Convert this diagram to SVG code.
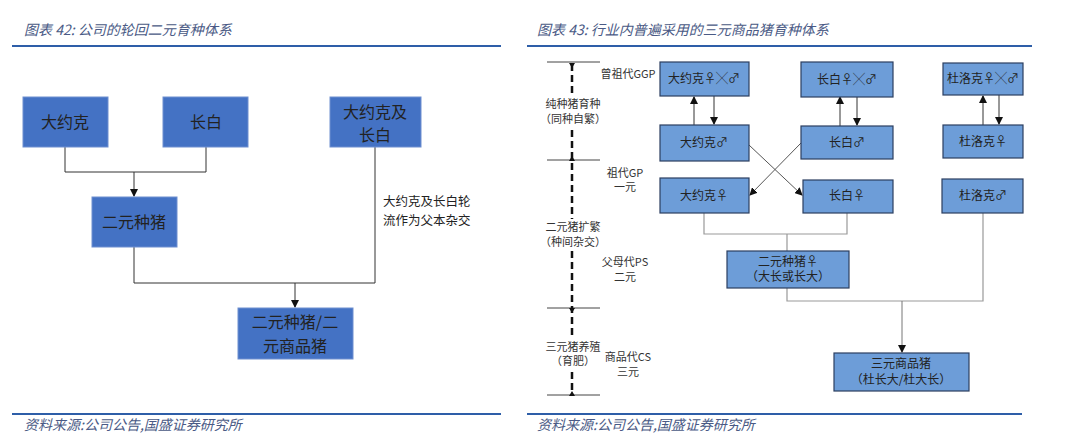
<svg xmlns="http://www.w3.org/2000/svg" width="1080" height="441" viewBox="0 0 1080 441">
<style>
text{font-family:"Noto Sans CJK SC","Liberation Sans",sans-serif;fill:#222}
.t{font-style:italic;fill:#4a5a85;font-size:14px}
.l{fill:#4472C4;stroke:#6e8fd0;stroke-width:1}
.lt{font-size:16px;text-anchor:middle}
.r{fill:#6d9dd8;stroke:#2c3e60;stroke-width:1.2}
.rt{font-size:12px;text-anchor:middle}
.s{font-size:11px;text-anchor:middle;fill:#333}
.c{fill:none;stroke:#333;stroke-width:1}
.g{fill:none;stroke:#999;stroke-width:1.2}
</style>
<defs>
<marker id="a" markerWidth="8" markerHeight="8" refX="7" refY="4" orient="auto" markerUnits="userSpaceOnUse"><path d="M0,0L8,4L0,8z" fill="#111"/></marker>
</defs>
<rect width="1080" height="441" fill="#fff"/>
<text class="t" x="24" y="35">图表 42:  公司的轮回二元育种体系</text>
<line x1="12" y1="46" x2="501" y2="46" stroke="#2e5ea8" stroke-width="2"/>
<text class="t" x="537" y="35">图表 43:  行业内普遍采用的三元商品猪育种体系</text>
<line x1="527" y1="46" x2="1032" y2="46" stroke="#2e5ea8" stroke-width="2"/>
<line x1="12" y1="414" x2="501" y2="414" stroke="#2e5ea8" stroke-width="2"/>
<line x1="527" y1="414" x2="1022" y2="414" stroke="#2e5ea8" stroke-width="2"/>
<text class="t" x="24" y="430">资料来源:公司公告,国盛证券研究所</text>
<text class="t" x="537" y="430">资料来源:公司公告,国盛证券研究所</text>

<g id="connectors">
<path class="c" d="M65,147V172H206V147M134,172V196" marker-end="url(#a)"/>
<path class="c" d="M375,147V283H134V247M295,283V307" marker-end="url(#a)"/>
<path class="c" d="M694,125V97" marker-end="url(#a)"/>
<path class="c" d="M714,96V124" marker-end="url(#a)"/>
<path class="c" d="M840,126V97" marker-end="url(#a)"/>
<path class="c" d="M857,97V125" marker-end="url(#a)"/>
<path class="c" d="M983,125V96" marker-end="url(#a)"/>
<path class="c" d="M999,95V124" marker-end="url(#a)"/>
<path class="c" d="M749,145L802,195" marker-end="url(#a)" style="stroke:#555"/>
<path class="c" d="M801,143L750,195" marker-end="url(#a)" style="stroke:#555"/>
<path class="g" d="M704,213V234H847V213M787,234V251"/>
<path class="g" d="M787,288V301H983V213"/>
<path class="c" d="M902,301V352" style="stroke:#777" marker-end="url(#a)"/>
<path d="M547,62H600M547,160H600M547,308H600M547,395H600" stroke="#444" stroke-width="1" fill="none"/>
<path d="M572,64V393" fill="none" stroke="#111" stroke-width="2.5" stroke-dasharray="7,4"/>
<path d="M572,68l-3,-5h6zM572,156l-3,5h6zM572,313l-3,-5h6zM572,391l-3,5h6z" fill="#111"/>
</g>

<g id="l1"><rect class="l" x="23" y="97" width="85" height="50"/><text class="lt" x="65" y="128">大约克</text></g>
<g id="l2"><rect class="l" x="163" y="97" width="85" height="50"/><text class="lt" x="206" y="128">长白</text></g>
<g id="l3"><rect class="l" x="330" y="97" width="91" height="50"/><text class="lt" x="375" y="118">大约克及</text><text class="lt" x="375" y="141">长白</text></g>
<g id="l4"><rect class="l" x="92" y="197" width="85" height="50"/><text class="lt" x="134" y="228">二元种猪</text></g>
<g id="l5"><rect class="l" x="238" y="308" width="115" height="51"/><text class="lt" x="295" y="328">二元种猪/二</text><text class="lt" x="295" y="352">元商品猪</text></g>
<g id="lbl"><text x="383" y="206" font-size="12.5">大约克及长白轮</text><text x="383" y="225" font-size="12.5">流作为父本杂交</text></g>

<g id="r1"><rect class="r" x="660" y="62" width="89" height="34"/><text class="rt" x="704" y="83">大约克♀╳♂</text></g>
<g id="r2"><rect class="r" x="801" y="62" width="92" height="35"/><text class="rt" x="847" y="84">长白♀╳♂</text></g>
<g id="r3"><rect class="r" x="943" y="63" width="80" height="32"/><text class="rt" x="983" y="83">杜洛克♀╳♂</text></g>
<g id="r4"><rect class="r" x="660" y="125" width="89" height="36"/><text class="rt" x="704" y="147">大约克♂</text></g>
<g id="r5"><rect class="r" x="801" y="126" width="92" height="33"/><text class="rt" x="847" y="147">长白♂</text></g>
<g id="r6"><rect class="r" x="943" y="125" width="80" height="33"/><text class="rt" x="983" y="146">杜洛克♀</text></g>
<g id="r7"><rect class="r" x="660" y="178" width="89" height="35"/><text class="rt" x="704" y="200">大约克♀</text></g>
<g id="r8"><rect class="r" x="803" y="180" width="90" height="33"/><text class="rt" x="847" y="200">长白♀</text></g>
<g id="r9"><rect class="r" x="942" y="179" width="81" height="34"/><text class="rt" x="983" y="200">杜洛克♂</text></g>
<g id="r10"><rect class="r" x="727" y="251" width="122" height="37"/><text class="rt" x="788" y="266">二元种猪♀</text><text class="rt" x="788" y="281">（大长或长大）</text></g>
<g id="r11"><rect class="r" x="834" y="353" width="135" height="38"/><text class="rt" x="901" y="368">三元商品猪</text><text class="rt" x="901" y="384">（杜长大/杜大长）</text></g>

<g id="axis">
<rect x="542" y="96" width="62" height="31" fill="#fff"/>
<rect x="540" y="219" width="66" height="31" fill="#fff"/>
<rect x="540" y="339" width="66" height="30" fill="#fff"/>
<text class="s" x="628" y="78">曾祖代GGP</text>
<text class="s" x="573" y="108">纯种猪育种</text><text class="s" x="573" y="123">（同种自繁）</text>
<text class="s" x="625" y="177">祖代GP</text><text class="s" x="625" y="191">一元</text>
<text class="s" x="573" y="231">二元猪扩繁</text><text class="s" x="573" y="246">（种间杂交）</text>
<text class="s" x="625" y="266">父母代PS</text><text class="s" x="625" y="281">二元</text>
<text class="s" x="573" y="351">三元猪养殖</text><text class="s" x="573" y="365">（育肥）</text>
<text class="s" x="628" y="361">商品代CS</text><text class="s" x="628" y="376">三元</text>
</g>
</svg>
